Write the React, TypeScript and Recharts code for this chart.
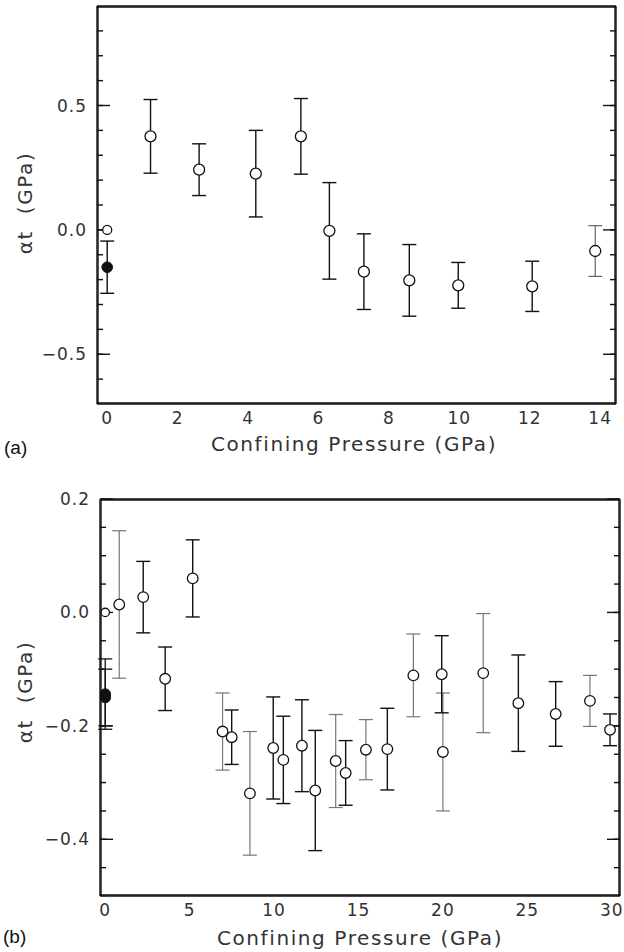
import React from "react";
import { ScatterChart, Scatter, XAxis, YAxis, ErrorBar } from "recharts";

const FONT = "'DejaVu Sans', 'Liberation Sans', sans-serif";

// ---- panel (a) ----
const pressureA = [1.23, 2.61, 4.22, 5.5, 6.31, 7.29, 8.58, 9.97, 12.07];
const alphaA = [0.376, 0.242, 0.226, 0.376, -0.004, -0.168, -0.203, -0.223, -0.227];
const errA = [0.148, 0.104, 0.174, 0.152, 0.194, 0.152, 0.144, 0.092, 0.101];

const pressureALight = [13.86];
const alphaALight = [-0.085];
const errALight = [0.102];

const pressureAFilled = [0];
const alphaAFilled = [-0.15];
const errAFilled = [0.105];

const pressureARef = [0];
const alphaARef = [0];

const xMajorA = [0, 2, 4, 6, 8, 10, 12, 14];
const xMinorA = [0, 0.5, 1, 1.5, 2, 2.5, 3, 3.5, 4, 4.5, 5, 5.5, 6, 6.5, 7, 7.5, 8, 8.5, 9, 9.5, 10, 10.5, 11, 11.5, 12, 12.5, 13, 13.5, 14];
const yMajorA = [-0.5, 0, 0.5];
const yMinorA = [-0.6, -0.5, -0.4, -0.3, -0.2, -0.1, 0, 0.1, 0.2, 0.3, 0.4, 0.5, 0.6, 0.7, 0.8];

// ---- panel (b) ----
const pressureB = [2.25, 3.55, 5.18, 7.49, 9.95, 10.55, 11.65, 12.44, 14.24, 16.71, 19.93, 24.47, 26.68, 29.9];
const alphaB = [0.027, -0.117, 0.06, -0.22, -0.239, -0.26, -0.235, -0.314, -0.283, -0.241, -0.109, -0.16, -0.179, -0.207];
const errB = [0.063, 0.056, 0.068, 0.048, 0.09, 0.077, 0.081, 0.106, 0.057, 0.072, 0.068, 0.085, 0.057, 0.028];

const pressureBLight = [0.83, 6.95, 8.57, 13.65, 15.44, 18.25, 20.0, 22.39, 28.71];
const alphaBLight = [0.014, -0.21, -0.319, -0.262, -0.242, -0.111, -0.246, -0.107, -0.156];
const errBLight = [0.13, 0.068, 0.109, 0.082, 0.053, 0.073, 0.104, 0.105, 0.045];

const pressureBFilled = [0, 0];
const alphaBFilled = [-0.144, -0.15];
const errBFilled = [0.062, 0.05];

const pressureBRef = [0];
const alphaBRef = [0];

const xMajorB = [0, 5, 10, 15, 20, 25, 30];
const xMinorB = Array.from({ length: 31 }, (_, i) => i);
const yMajorB = [-0.4, -0.2, 0, 0.2];
const yMinorB = [-0.45, -0.4, -0.35, -0.3, -0.25, -0.2, -0.15, -0.1, -0.05, 0, 0.05, 0.1, 0.15];

const toPoints = (xs: number[], ys: number[], es?: number[]) =>
  xs.map((x, i) => ({ x, y: ys[i], err: es ? es[i] : 0 }));

const fmtY = (v: number) => (v < 0 ? "\u2212" : "") + Math.abs(v).toFixed(1);
const fmtX = (v: number) => String(v);
const blank = () => "";

const tickText = { fontSize: 17, fill: "#333", fontFamily: FONT, letterSpacing: 1 };
const frame = { stroke: "#111", strokeWidth: 1.4 };

const openDot = (r: number) => (p: any) =>
  <circle cx={p.cx} cy={p.cy} r={r} fill="#fff" stroke="#111" strokeWidth={1.3} />;
const filledDot = (p: any) => <circle cx={p.cx} cy={p.cy} r={5.3} fill="#111" stroke="#111" />;

// label axes + four mirrored frame axes (inward ticks on every side)
function frameAxes(
  xDomain: number[], yDomain: number[],
  xMajor: number[], xMinor: number[], yMajor: number[], yMinor: number[],
  yLabelWidth: number
) {
  const common = { type: "number" as const, allowDataOverflow: true, interval: 0 as const, tickFormatter: blank, axisLine: frame, tickLine: frame, mirror: true };
  return [
    <XAxis key="x" xAxisId="x" type="number" dataKey="x" domain={xDomain} ticks={xMajor} allowDataOverflow interval={0}
      height={56} tickSize={0} tickMargin={8} tickLine={false} axisLine={false} tick={tickText} tickFormatter={fmtX} />,
    <XAxis key="xb1" xAxisId="xb1" {...common} domain={xDomain} ticks={xMinor} height={1} tickSize={6} />,
    <XAxis key="xb2" xAxisId="xb2" {...common} domain={xDomain} ticks={xMajor} height={1} tickSize={12} />,
    <XAxis key="xt1" xAxisId="xt1" {...common} orientation="top" domain={xDomain} ticks={xMinor} height={1} tickSize={6} />,
    <XAxis key="xt2" xAxisId="xt2" {...common} orientation="top" domain={xDomain} ticks={xMajor} height={1} tickSize={12} />,
    <YAxis key="y" yAxisId="y" type="number" dataKey="y" domain={yDomain} ticks={yMajor} allowDataOverflow interval={0}
      width={yLabelWidth} tickSize={0} tickMargin={10} tickLine={false} axisLine={false} tick={tickText} tickFormatter={fmtY} />,
    <YAxis key="yl1" yAxisId="yl1" {...common} domain={yDomain} ticks={yMinor} width={1} tickSize={6} />,
    <YAxis key="yl2" yAxisId="yl2" {...common} domain={yDomain} ticks={yMajor} width={1} tickSize={12} />,
    <YAxis key="yr1" yAxisId="yr1" {...common} orientation="right" domain={yDomain} ticks={yMinor} width={1} tickSize={6} />,
    <YAxis key="yr2" yAxisId="yr2" {...common} orientation="right" domain={yDomain} ticks={yMajor} width={1} tickSize={12} />,
  ];
}

const titleStyle: React.CSSProperties = {
  position: "absolute", fontFamily: FONT, fontSize: 20, letterSpacing: 1.6, color: "#333", whiteSpace: "nowrap",
};

export default function App() {
  return (
    <div style={{ position: "absolute", left: 0, top: 0, width: 624, height: 952, background: "#fff" }}>
      {/* panel (a) */}
      <div style={{ position: "absolute", left: 0, top: 0 }}>
        <ScatterChart width={624} height={460} margin={{ top: 6, right: 8, left: 0, bottom: 0 }}>
          {frameAxes([-0.29, 14.45], [-0.7, 0.9], xMajorA, xMinorA, yMajorA, yMinorA, 97)}
          <Scatter xAxisId="x" yAxisId="y" data={toPoints(pressureALight, alphaALight, errALight)} shape={openDot(5.5)} isAnimationActive={false}>
            <ErrorBar dataKey="err" direction="y" width={7} stroke="#666" strokeWidth={1.2} isAnimationActive={false} />
          </Scatter>
          <Scatter xAxisId="x" yAxisId="y" data={toPoints(pressureA, alphaA, errA)} shape={openDot(5.5)} isAnimationActive={false}>
            <ErrorBar dataKey="err" direction="y" width={7} stroke="#111" strokeWidth={1.4} isAnimationActive={false} />
          </Scatter>
          <Scatter xAxisId="x" yAxisId="y" data={toPoints(pressureAFilled, alphaAFilled, errAFilled)} shape={filledDot} isAnimationActive={false}>
            <ErrorBar dataKey="err" direction="y" width={7} stroke="#111" strokeWidth={1.4} isAnimationActive={false} />
          </Scatter>
          <Scatter xAxisId="x" yAxisId="y" data={toPoints(pressureARef, alphaARef)} shape={openDot(4.5)} isAnimationActive={false} />
        </ScatterChart>
      </div>
      <div style={{ ...titleStyle, left: 25, top: 203, transform: "translate(-50%, -50%) rotate(-90deg)" }}>&alpha;t&nbsp; (GPa)</div>
      <div style={{ ...titleStyle, left: 354, top: 444, transform: "translate(-50%, -50%)" }}>Confining Pressure (GPa)</div>
      <div style={{ ...titleStyle, left: 4, top: 448, transform: "translateY(-50%)", color: "#111", letterSpacing: 0, fontFamily: "'Liberation Sans', sans-serif", fontSize: 19 }}>(a)</div>

      {/* panel (b) */}
      <div style={{ position: "absolute", left: 0, top: 460 }}>
        <ScatterChart width={624} height={492} margin={{ top: 39, right: 4, left: 0, bottom: 0 }}>
          {frameAxes([-0.31, 30.49], [-0.5, 0.2], xMajorB, xMinorB, yMajorB, yMinorB, 100)}
          <Scatter xAxisId="x" yAxisId="y" data={toPoints(pressureBLight, alphaBLight, errBLight)} shape={openDot(5.3)} isAnimationActive={false}>
            <ErrorBar dataKey="err" direction="y" width={7} stroke="#777" strokeWidth={1.2} isAnimationActive={false} />
          </Scatter>
          <Scatter xAxisId="x" yAxisId="y" data={toPoints(pressureB, alphaB, errB)} shape={openDot(5.3)} isAnimationActive={false}>
            <ErrorBar dataKey="err" direction="y" width={7} stroke="#111" strokeWidth={1.4} isAnimationActive={false} />
          </Scatter>
          <Scatter xAxisId="x" yAxisId="y" data={toPoints(pressureBFilled, alphaBFilled, errBFilled)} shape={filledDot} isAnimationActive={false}>
            <ErrorBar dataKey="err" direction="y" width={7} stroke="#111" strokeWidth={1.3} isAnimationActive={false} />
          </Scatter>
          <Scatter xAxisId="x" yAxisId="y" data={toPoints(pressureBRef, alphaBRef)} shape={openDot(4.2)} isAnimationActive={false} />
        </ScatterChart>
      </div>
      <div style={{ ...titleStyle, left: 25, top: 692, transform: "translate(-50%, -50%) rotate(-90deg)" }}>&alpha;t&nbsp; (GPa)</div>
      <div style={{ ...titleStyle, left: 360, top: 938, transform: "translate(-50%, -50%)" }}>Confining Pressure (GPa)</div>
      <div style={{ ...titleStyle, left: 3, top: 937, transform: "translateY(-50%)", color: "#111", letterSpacing: 0, fontFamily: "'Liberation Sans', sans-serif", fontSize: 19 }}>(b)</div>
    </div>
  );
}
